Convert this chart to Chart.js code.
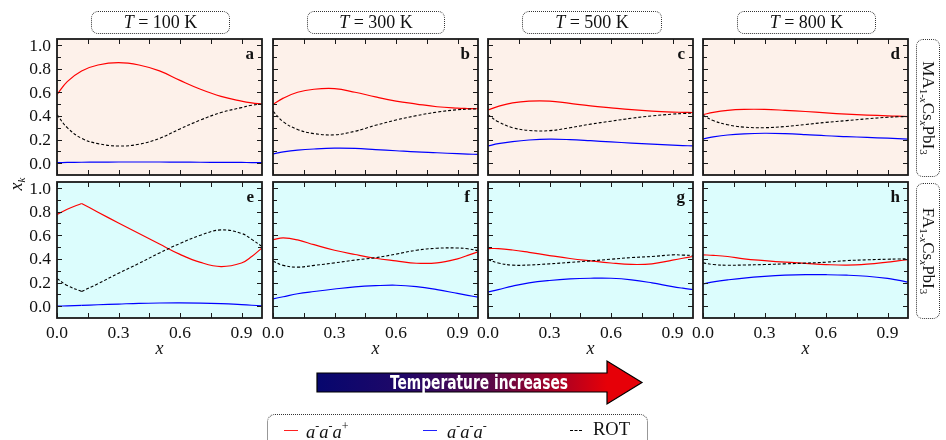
<!DOCTYPE html>
<html>
<head>
<meta charset="utf-8">
<script src="https://cdn.jsdelivr.net/npm/chart.js@4"></script>
<style>
  body { margin:0; background:#fff; }
  #wrap { position:relative; width:946px; height:440px; overflow:hidden; font-family:"Liberation Serif", serif; color:#111; }
  #wrap canvas { position:absolute; }
  .tbox { position:absolute; top:11px; height:21px; border:1px dotted #333; border-radius:7px; font-size:18px; line-height:21px; text-align:center; }
  .sbox { position:absolute; left:916px; width:22px; border:1px dotted #333; border-radius:7px; }
  .sbox span { position:absolute; left:50%; top:50%; white-space:nowrap; font-size:17px; transform:translate(-50%,-50%) rotate(90deg); }
  .sbox sub, #ylab sub { font-size:11px; vertical-align:-3px; }
  #ylab { position:absolute; left:16px; top:184px; font-size:18px; transform:translate(-50%,-50%) rotate(-90deg); white-space:nowrap; }
  #legend { position:absolute; left:267px; top:414px; width:379px; height:40px; border:1px dotted #333; border-radius:8px; }
  .lg { position:absolute; font-size:18.5px; white-space:nowrap; }
  .lg sup { font-size:12px; vertical-align:8px; }
  .ln { position:absolute; height:1px; }
  .dash { position:absolute; height:0; border-top:1px dashed #000; }
</style>
</head>
<body>
<div id="wrap">
  <div class="tbox" style="left:91px;width:137px"><i>T</i> = 100 K</div>
  <div class="tbox" style="left:307px;width:136px"><i>T</i> = 300 K</div>
  <div class="tbox" style="left:522px;width:138px"><i>T</i> = 500 K</div>
  <div class="tbox" style="left:737px;width:137px"><i>T</i> = 800 K</div>

  <div class="sbox" style="top:39px;height:136px"><span>MA<sub>1-<i>x</i></sub>Cs<sub><i>x</i></sub>PbI<sub>3</sub></span></div>
  <div class="sbox" style="top:183px;height:134px"><span>FA<sub>1-<i>x</i></sub>Cs<sub><i>x</i></sub>PbI<sub>3</sub></span></div>

  <div id="ylab"><i>x<sub>k</sub></i></div>

  <svg style="position:absolute;left:0;top:0" width="946" height="440">
    <defs>
      <linearGradient id="tg" gradientUnits="userSpaceOnUse" x1="317" y1="0" x2="607" y2="0">
        <stop offset="0" stop-color="#06066e"/>
        <stop offset="0.3" stop-color="#200868"/>
        <stop offset="0.6" stop-color="#5a0848"/>
        <stop offset="0.85" stop-color="#b00020"/>
        <stop offset="1" stop-color="#e60008"/>
      </linearGradient>
    </defs>
    <polygon points="317,373 607,373 607,361 642,382.5 607,404 607,392 317,392" fill="url(#tg)" stroke="#000" stroke-width="1.2"/>
    <text x="479" y="389" text-anchor="middle" fill="#fff" font-family="DejaVu Sans Condensed, DejaVu Sans" font-weight="bold" font-size="19" textLength="178" lengthAdjust="spacingAndGlyphs">Temperature increases</text>
  </svg>

  <div id="legend"></div>
  <div class="ln" style="left:284px;top:430px;width:14px;background:#ff2020"></div>
  <div class="lg" style="left:306px;top:419px"><i>a</i><sup>-</sup><i>a</i><sup>-</sup><i>a</i><sup>+</sup></div>
  <div class="ln" style="left:423px;top:430px;width:14px;background:#2020ff"></div>
  <div class="lg" style="left:447px;top:419px"><i>a</i><sup>-</sup><i>a</i><sup>-</sup><i>a</i><sup>-</sup></div>
  <div class="dash" style="left:570px;top:430px;width:12px"></div>
  <div class="lg" style="left:593px;top:419px">ROT</div>
</div>

<script>
// composition x (shared by every panel)
const xs = [0, 0.05, 0.12, 0.2, 0.3, 0.4, 0.5, 0.6, 0.7, 0.8, 0.9, 0.95, 1.0];

// MA(1-x)Cs(x)PbI3
const redA  = [0.58, 0.69, 0.78, 0.83, 0.85, 0.83, 0.78, 0.70, 0.625, 0.565, 0.525, 0.51, 0.50];
const blueA = [0.004, 0.006, 0.008, 0.009, 0.01, 0.01, 0.01, 0.009, 0.008, 0.007, 0.006, 0.005, 0.004];
const rotA  = [0.41, 0.30, 0.21, 0.165, 0.145, 0.16, 0.21, 0.29, 0.365, 0.428, 0.47, 0.49, 0.50];

const redB  = [0.497, 0.55, 0.60, 0.625, 0.63, 0.60, 0.56, 0.525, 0.50, 0.477, 0.465, 0.462, 0.46];
const blueB = [0.079, 0.095, 0.11, 0.12, 0.127, 0.125, 0.115, 0.105, 0.095, 0.088, 0.08, 0.077, 0.074];
const rotB  = [0.44, 0.35, 0.285, 0.25, 0.24, 0.27, 0.32, 0.365, 0.402, 0.432, 0.452, 0.457, 0.46];

const redC  = [0.45, 0.48, 0.51, 0.525, 0.525, 0.505, 0.485, 0.468, 0.452, 0.44, 0.432, 0.43, 0.428];
const blueC = [0.146, 0.165, 0.183, 0.196, 0.203, 0.199, 0.19, 0.18, 0.17, 0.161, 0.153, 0.149, 0.146];
const rotC  = [0.41, 0.35, 0.30, 0.277, 0.275, 0.30, 0.33, 0.355, 0.38, 0.40, 0.415, 0.42, 0.423];

const redD  = [0.41, 0.43, 0.447, 0.455, 0.455, 0.447, 0.437, 0.425, 0.415, 0.407, 0.40, 0.397, 0.394];
const blueD = [0.206, 0.222, 0.238, 0.248, 0.253, 0.25, 0.242, 0.232, 0.225, 0.218, 0.211, 0.207, 0.203];
const rotD  = [0.405, 0.36, 0.325, 0.305, 0.30, 0.31, 0.327, 0.345, 0.36, 0.375, 0.388, 0.392, 0.395];

// FA(1-x)Cs(x)PbI3
const redE  = [0.775, 0.82, 0.868, 0.795, 0.703, 0.614, 0.525, 0.438, 0.37, 0.335, 0.365, 0.42, 0.493];
const blueE = [0.0, 0.003, 0.007, 0.012, 0.018, 0.024, 0.027, 0.028, 0.026, 0.021, 0.013, 0.008, 0.003];
const rotE  = [0.234, 0.175, 0.124, 0.19, 0.278, 0.362, 0.45, 0.53, 0.60, 0.645, 0.615, 0.565, 0.505];

const redF  = [0.563, 0.577, 0.56, 0.52, 0.473, 0.437, 0.405, 0.383, 0.363, 0.366, 0.40, 0.43, 0.459];
const blueF = [0.062, 0.08, 0.105, 0.124, 0.145, 0.163, 0.173, 0.177, 0.165, 0.14, 0.108, 0.092, 0.076];
const rotF  = [0.38, 0.345, 0.33, 0.345, 0.366, 0.39, 0.41, 0.44, 0.473, 0.49, 0.492, 0.485, 0.47];

const redG  = [0.487, 0.487, 0.475, 0.455, 0.428, 0.403, 0.383, 0.365, 0.353, 0.358, 0.389, 0.405, 0.42];
const blueG = [0.121, 0.14, 0.17, 0.197, 0.217, 0.23, 0.236, 0.236, 0.223, 0.197, 0.165, 0.152, 0.141];
const rotG  = [0.394, 0.365, 0.347, 0.348, 0.358, 0.37, 0.383, 0.397, 0.411, 0.42, 0.434, 0.432, 0.428];

const redH  = [0.434, 0.43, 0.42, 0.40, 0.385, 0.372, 0.362, 0.352, 0.347, 0.355, 0.372, 0.383, 0.394];
const blueH = [0.189, 0.205, 0.222, 0.238, 0.252, 0.262, 0.267, 0.266, 0.262, 0.253, 0.235, 0.22, 0.203];
const rotH  = [0.366, 0.352, 0.346, 0.348, 0.352, 0.358, 0.364, 0.372, 0.385, 0.392, 0.397, 0.399, 0.40];

// ticks
const yTickVals = [0, 0.1, 0.2, 0.3, 0.4, 0.5, 0.6, 0.7, 0.8, 0.9, 1.0];
const yLabelVals = [0.0, 0.2, 0.4, 0.6, 0.8, 1.0];
const xTickVals = [0, 0.15, 0.3, 0.45, 0.6, 0.75, 0.9];
const xLabelVals = [0.0, 0.3, 0.6, 0.9];

// kink: index where the curves have a corner (panel e at x = 0.12)
const panels = [
  {tag:'a', row:0, col:0, red:redA, blue:blueA, rot:rotA},
  {tag:'b', row:0, col:1, red:redB, blue:blueB, rot:rotB},
  {tag:'c', row:0, col:2, red:redC, blue:blueC, rot:rotC},
  {tag:'d', row:0, col:3, red:redD, blue:blueD, rot:rotD},
  {tag:'e', row:1, col:0, red:redE, blue:blueE, rot:rotE, kink:2},
  {tag:'f', row:1, col:1, red:redF, blue:blueF, rot:rotF},
  {tag:'g', row:1, col:2, red:redG, blue:blueG, rot:rotG},
  {tag:'h', row:1, col:3, red:redH, blue:blueH, rot:rotH},
];

const colLeft = [57, 273, 488, 703];
const rowTop = [39, 182];
const plotW = 205, plotH = 136;
const PADL = 55, PADT = 12, PADR = 12, PADB = 45;
const rowBg = ['#fdf1ea', '#dcfdfd'];

const pts = (arr, a, b) => xs.map((x, i) => ({x: x, y: arr[i]})).slice(a, b);

const deco = {
  id: 'deco',
  beforeDraw(chart, args, o) {
    const {ctx, chartArea: a} = chart;
    ctx.save();
    ctx.fillStyle = o.bg;
    ctx.fillRect(a.left, a.top, a.right - a.left, a.bottom - a.top);
    ctx.restore();
  },
  afterDraw(chart, args, o) {
    const {ctx, chartArea: a} = chart;
    const x = chart.scales.x, y = chart.scales.y;
    ctx.save();
    ctx.strokeStyle = '#1a1a1a';
    ctx.lineWidth = 1;
    ctx.beginPath();
    yTickVals.forEach((v, i) => {
      const p = Math.round(y.getPixelForValue(v)) + 0.5;
      const L = i % 2 === 0 ? 5 : 4;
      ctx.moveTo(a.left, p); ctx.lineTo(a.left + L, p);
      ctx.moveTo(a.right, p); ctx.lineTo(a.right - L, p);
    });
    xTickVals.forEach(v => {
      const p = Math.round(x.getPixelForValue(v)) + 0.5;
      ctx.moveTo(p, a.top); ctx.lineTo(p, a.top + 5);
      ctx.moveTo(p, a.bottom); ctx.lineTo(p, a.bottom - 5);
    });
    ctx.stroke();

    ctx.lineWidth = 1.8;
    ctx.strokeRect(a.left, a.top, a.right - a.left, a.bottom - a.top);

    ctx.fillStyle = '#111';
    if (o.showY) {
      ctx.font = '17.5px "Liberation Serif"';
      ctx.textAlign = 'right';
      ctx.textBaseline = 'middle';
      yLabelVals.forEach(v => ctx.fillText(v.toFixed(1), a.left - 6, y.getPixelForValue(v) + 1));
    }
    if (o.showX) {
      ctx.font = '17.5px "Liberation Serif"';
      ctx.textAlign = 'center';
      ctx.textBaseline = 'middle';
      xLabelVals.forEach(v => ctx.fillText(v.toFixed(1), x.getPixelForValue(v), a.bottom + 15));
      ctx.font = 'italic 18px "Liberation Serif"';
      ctx.fillText('x', (a.left + a.right) / 2, a.bottom + 31);
    }
    ctx.font = 'bold 17px "Liberation Serif"';
    ctx.textAlign = 'right';
    ctx.textBaseline = 'alphabetic';
    ctx.fillText(o.tag, a.right - 8, a.top + 20);
    ctx.restore();
  }
};

function seriesSets(pn, arr, style) {
  if (pn.kink === undefined) return [Object.assign({data: pts(arr)}, style)];
  return [
    Object.assign({data: pts(arr, 0, pn.kink + 1)}, style),
    Object.assign({data: pts(arr, pn.kink)}, style)
  ];
}

const wrap = document.getElementById('wrap');
panels.forEach(pn => {
  const cv = document.createElement('canvas');
  const w = plotW + PADL + PADR, h = plotH + PADT + PADB;
  cv.width = w; cv.height = h;
  cv.style.width = w + 'px'; cv.style.height = h + 'px';
  cv.style.left = (colLeft[pn.col] - PADL) + 'px';
  cv.style.top = (rowTop[pn.row] - PADT) + 'px';
  wrap.insertBefore(cv, wrap.firstChild);

  const datasets = [].concat(
    seriesSets(pn, pn.rot, {borderColor: '#000', borderWidth: 1.1, borderDash: [3, 2]}),
    seriesSets(pn, pn.red, {borderColor: '#ff0000', borderWidth: 1.2}),
    seriesSets(pn, pn.blue, {borderColor: '#0000ff', borderWidth: 1.2})
  );

  new Chart(cv.getContext('2d'), {
    type: 'line',
    data: {datasets: datasets},
    options: {
      responsive: false,
      animation: false,
      devicePixelRatio: 1,
      layout: {padding: {left: PADL, top: PADT, right: PADR, bottom: PADB}},
      elements: {point: {radius: 0}, line: {tension: 0.4, fill: false}},
      scales: {
        x: {type: 'linear', min: 0, max: 1, display: false},
        y: {type: 'linear', min: -0.1, max: 1.05, display: false}
      },
      plugins: {
        legend: {display: false},
        tooltip: {enabled: false},
        deco: {bg: rowBg[pn.row], tag: pn.tag, showY: pn.col === 0, showX: pn.row === 1}
      }
    },
    plugins: [deco]
  });
});
</script>
</body>
</html>
